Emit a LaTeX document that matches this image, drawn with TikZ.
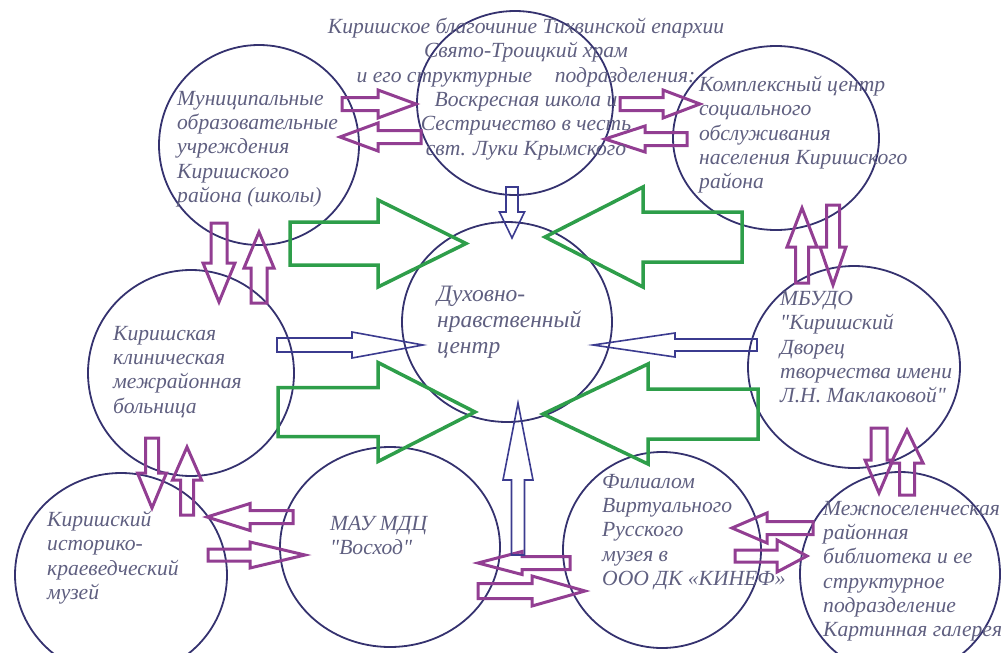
\documentclass[tikz,border=0pt]{standalone}
\usepackage{fontspec}
\setmainfont{Liberation Serif}
\usetikzlibrary{calc, shapes.geometric}
\definecolor{ringnavy}{HTML}{35326F}
\definecolor{txtgray}{HTML}{5F5F80}
\definecolor{plum}{HTML}{923E92}
\definecolor{leaf}{HTML}{2E9E4A}
\definecolor{navyarr}{HTML}{3B3B8F}

\tikzset{
  ring/.style={ellipse, draw=ringnavy, line width=1.8pt, inner sep=0pt},
  lbl/.style={text=txtgray, font=\fontsize{21.6}{24.3}\selectfont\itshape, align=left, anchor=north west, inner sep=0pt},
  plumarr/.style={draw=plum, line width=3pt},
  leafarr/.style={draw=leaf, line width=3.5pt},
  navyline/.style={draw=navyarr, line width=1.6pt},
}

% hollow block arrow: [style]{tail}{tip}{half shaft}{half head}{head length}
\newcommand{\blockarrow}[6][]{%
  \coordinate (ba-base) at ($(#3)!#6!(#2)$);
  \draw[#1] ($(#2)!#4!90:(#3)$) -- ($(ba-base)!#4!90:(#3)$) -- ($(ba-base)!#5!90:(#3)$) -- (#3)
    -- ($(ba-base)!#5!-90:(#3)$) -- ($(ba-base)!#4!-90:(#3)$) -- ($(#2)!#4!-90:(#3)$) -- cycle;}

\begin{document}
\begin{tikzpicture}[x=1pt, y=-1pt]

\useasboundingbox (0,0) rectangle (1004,653);

% Circles
\node[ring, minimum width=200pt, minimum height=200pt] (mun) at (259,145) {};
\node[ring, minimum width=196pt, minimum height=184pt] (church) at (515,103) {};
\node[ring, minimum width=206pt, minimum height=184pt] (comp) at (776,138) {};
\node[ring, minimum width=210pt, minimum height=200pt] (centre) at (507,322) {};
\node[ring, minimum width=206pt, minimum height=206pt] (hosp) at (191,373) {};
\node[ring, minimum width=212pt, minimum height=202pt] (mbudo) at (854,367) {};
\node[ring, minimum width=212pt, minimum height=204pt] (museum) at (121,575) {};
\node[ring, minimum width=220pt, minimum height=200pt] (voskhod) at (390,547) {};
\node[ring, minimum width=198pt, minimum height=196pt] (filial) at (662,550) {};
\node[ring, minimum width=200pt, minimum height=204pt] (library) at (900,574) {};

% Arrow ends
\coordinate (mun-e) at (342,104);   \coordinate (church-w) at (416,104);
\coordinate (church-sw) at (421,137); \coordinate (mun-ne) at (340,137);
\coordinate (church-e) at (620,104); \coordinate (comp-w) at (700,104);
\coordinate (comp-sw) at (687,139); \coordinate (church-se) at (605,139);
\coordinate (mun-s) at (219,223);   \coordinate (hosp-n) at (219,302);
\coordinate (hosp-ne) at (259,303); \coordinate (mun-se) at (259,232);
\coordinate (mbudo-n) at (802,283); \coordinate (comp-s) at (802,208);
\coordinate (comp-se) at (833,205); \coordinate (mbudo-ne) at (833,285);
\coordinate (hosp-s) at (152,438);  \coordinate (museum-n) at (152,508);
\coordinate (museum-ne) at (187,515); \coordinate (hosp-se) at (187,447);
\coordinate (mbudo-s) at (879,428); \coordinate (library-n) at (879,493);
\coordinate (library-ne) at (907,495); \coordinate (mbudo-se) at (907,430);
\coordinate (voskhod-w) at (293,517); \coordinate (museum-e) at (207,517);
\coordinate (museum-se) at (208,555); \coordinate (voskhod-sw) at (305,555);
\coordinate (filial-w) at (570,563); \coordinate (voskhod-e) at (478,563);
\coordinate (voskhod-se) at (478,591); \coordinate (filial-sw) at (585,591);
\coordinate (library-w) at (813,528); \coordinate (filial-e) at (732,528);
\coordinate (filial-se) at (735,556); \coordinate (library-sw) at (807,556);

% Purple two-way arrows
\blockarrow[plumarr]{mun-e}{church-w}{6.5pt}{14pt}{38pt}
\blockarrow[plumarr]{church-sw}{mun-ne}{6.5pt}{14pt}{38pt}
\blockarrow[plumarr]{church-e}{comp-w}{6.5pt}{14pt}{37pt}
\blockarrow[plumarr]{comp-sw}{church-se}{6.5pt}{13pt}{40pt}
\blockarrow[plumarr]{mun-s}{hosp-n}{8pt}{16pt}{39pt}
\blockarrow[plumarr]{hosp-ne}{mun-se}{8pt}{15pt}{36pt}
\blockarrow[plumarr]{mbudo-n}{comp-s}{6.5pt}{15pt}{39pt}
\blockarrow[plumarr]{comp-se}{mbudo-ne}{6.5pt}{13pt}{38pt}
\blockarrow[plumarr]{hosp-s}{museum-n}{6.5pt}{14.5pt}{35pt}
\blockarrow[plumarr]{museum-ne}{hosp-se}{6.5pt}{14.5pt}{33pt}
\blockarrow[plumarr]{mbudo-s}{library-n}{8pt}{14pt}{33pt}
\blockarrow[plumarr]{library-ne}{mbudo-se}{7.5pt}{16pt}{33pt}
\blockarrow[plumarr]{voskhod-w}{museum-e}{6.5pt}{13.5pt}{43pt}
\blockarrow[plumarr]{museum-se}{voskhod-sw}{6pt}{13pt}{55pt}
\blockarrow[plumarr]{filial-w}{voskhod-e}{6.5pt}{11.5pt}{44pt}
\blockarrow[plumarr]{voskhod-se}{filial-sw}{7.5pt}{15pt}{53pt}
\blockarrow[plumarr]{library-w}{filial-e}{6.5pt}{15pt}{35pt}
\blockarrow[plumarr]{filial-se}{library-sw}{6pt}{16pt}{30pt}

% Thin navy arrows into the centre
\coordinate (church-s) at (512,187); \coordinate (centre-n) at (512,238);
\coordinate (hosp-e) at (277,345);   \coordinate (centre-w) at (423,345);
\coordinate (mbudo-w) at (757,345);  \coordinate (centre-e) at (593,345);
\coordinate (low-mid) at (518,555);  \coordinate (centre-s) at (518,403);
\blockarrow[navyline]{church-s}{centre-n}{6pt}{12.5pt}{26pt}
\blockarrow[navyline]{hosp-e}{centre-w}{7pt}{13pt}{71pt}
\blockarrow[navyline]{mbudo-w}{centre-e}{6pt}{12pt}{82pt}
\blockarrow[navyline]{low-mid}{centre-s}{6.5pt}{15pt}{77pt}

% Big green arrows into the centre
\coordinate (g1) at (290,243.5); \coordinate (centre-nw) at (466,243.5);
\coordinate (g2) at (278,412);   \coordinate (centre-sw) at (475,412);
\coordinate (g3) at (742,237);   \coordinate (centre-ne) at (545,237);
\coordinate (g4) at (758,414);   \coordinate (centre-se) at (543,414);
\blockarrow[leafarr]{g1}{centre-nw}{21.5pt}{43.5pt}{88pt}
\blockarrow[leafarr]{g2}{centre-sw}{24.5pt}{49.5pt}{97pt}
\blockarrow[leafarr]{g3}{centre-ne}{25pt}{50pt}{98pt}
\blockarrow[leafarr]{g4}{centre-se}{25pt}{50pt}{105pt}

% Labels
\node[lbl, align=center, anchor=north] (church-t) at (526,18) {Киришское благочиние Тихвинской епархии\\Свято-Троицкий храм\\и его структурные\hspace{0.8em} подразделения:\\Воскресная школа и\\Сестричество в честь\\свт. Луки Крымского};
\node[lbl] (mun-t) at (177,91) {Муниципальные\\образовательные\\учреждения\\Киришского\\района (школы)};
\node[lbl] (comp-t) at (699,76) {Комплексный центр\\социального\\обслуживания\\населения Киришского\\района};
\node[lbl, font=\fontsize{23.5}{26}\selectfont\itshape] (centre-t) at (437,286) {Духовно-\\нравственный\\центр};
\node[lbl] (hosp-t) at (113,326) {Киришская\\клиническая\\межрайонная\\больница};
\node[lbl] (mbudo-t) at (780,291) {МБУДО\\\textquotedbl Киришский\\Дворец\\творчества имени\\Л.Н. Маклаковой\textquotedbl};
\node[lbl] (museum-t) at (47,511) {Киришский\\историко-\\краеведческий\\музей};
\node[lbl] (voskhod-t) at (330,516) {МАУ МДЦ\\\textquotedbl Восход\textquotedbl};
\node[lbl] (filial-t) at (602,474) {Филиалом\\Виртуального\\Русского\\музея в\\ООО ДК «КИНЕФ»};
\node[lbl] (library-t) at (823,501) {Межпоселенческая\\районная\\библиотека и ее\\структурное\\подразделение\\Картинная галерея};

\end{tikzpicture}
\end{document}
